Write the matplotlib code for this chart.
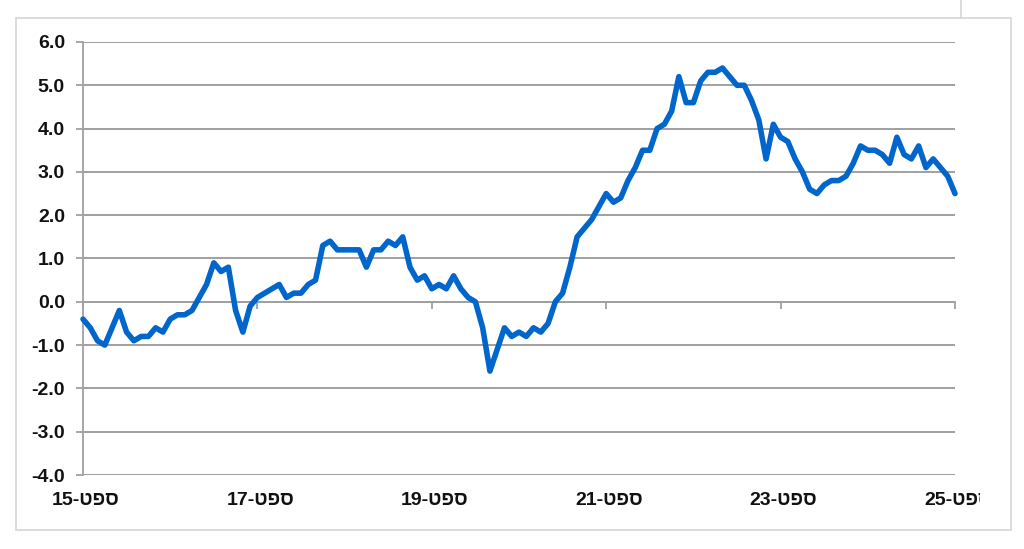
import matplotlib
matplotlib.use("Agg")
import matplotlib.pyplot as plt
from matplotlib.lines import Line2D
from matplotlib.patches import Rectangle
from matplotlib.transforms import Bbox, TransformedBbox

# Monthly values, Sep 2015 .. Sep 2025
values = [
    -0.4, -0.6, -0.9, -1.0, -0.6, -0.2, -0.7, -0.9, -0.8, -0.8,
    -0.6, -0.7, -0.4, -0.3, -0.3, -0.2, 0.1, 0.4, 0.9, 0.7,
    0.8, -0.2, -0.7, -0.1, 0.1, 0.2, 0.3, 0.4, 0.1, 0.2,
    0.2, 0.4, 0.5, 1.3, 1.4, 1.2, 1.2, 1.2, 1.2, 0.8,
    1.2, 1.2, 1.4, 1.3, 1.5, 0.8, 0.5, 0.6, 0.3, 0.4,
    0.3, 0.6, 0.3, 0.1, 0.0, -0.6, -1.6, -1.1, -0.6, -0.8,
    -0.7, -0.8, -0.6, -0.7, -0.5, 0.0, 0.2, 0.8, 1.5, 1.7,
    1.9, 2.2, 2.5, 2.3, 2.4, 2.8, 3.1, 3.5, 3.5, 4.0,
    4.1, 4.4, 5.2, 4.6, 4.6, 5.1, 5.3, 5.3, 5.4, 5.2,
    5.0, 5.0, 4.65, 4.2, 3.3, 4.1, 3.8, 3.7, 3.3, 3.0,
    2.6, 2.5, 2.7, 2.8, 2.8, 2.9, 3.2, 3.6, 3.5, 3.5,
    3.4, 3.2, 3.8, 3.4, 3.3, 3.6, 3.1, 3.3, 3.1, 2.9,
    2.5,
]
months = list(range(len(values)))
tick_months = [0, 24, 48, 72, 96, 120]
tick_labels = ["15-טפס", "17-טפס", "19-טפס", "21-טפס", "23-טפס", "25-טפס"]
y_ticks = [6.0, 5.0, 4.0, 3.0, 2.0, 1.0, 0.0, -1.0, -2.0, -3.0, -4.0]

plt.rcParams['font.family'] = ['Liberation Sans', 'DejaVu Sans']

W, H = 1024, 549
fig = plt.figure(figsize=(W / 100, H / 100), dpi=100)
fig.patch.set_facecolor('white')

# outer frame
frame_col = '#d9d9d9'
fig.add_artist(Rectangle((16 / W, 1 - 530 / H), (1011 - 16) / W, (530 - 18) / H,
                         transform=fig.transFigure, fill=False,
                         edgecolor=frame_col, linewidth=1.3))
fig.add_artist(Line2D([961 / W, 961 / W], [1 - 18 / H, 1.0], transform=fig.transFigure,
                      color=frame_col, linewidth=1.3))

left, right = 83 / W, 955 / W
bottom, top = 1 - 475 / H, 1 - 42 / H
ax = fig.add_axes([left, bottom, right - left, top - bottom])
ax.set_facecolor('none')

grid_col = '#a0a0a0'
ax.set_xlim(0, 120)
ax.set_ylim(-4, 6)
ax.set_yticks(y_ticks)
ax.set_yticklabels([f"{v:.1f}" for v in y_ticks], fontsize=14, fontweight='bold', color='#111111')
ax.yaxis.grid(True, color=grid_col, linewidth=1.4)
ax.set_axisbelow(True)
ax.tick_params(axis='y', direction='out', length=5, width=1.3, color=grid_col, pad=8)

for s in ['top', 'right']:
    ax.spines[s].set_visible(False)
ax.spines['left'].set_color(grid_col)
ax.spines['left'].set_linewidth(1.3)
ax.spines['bottom'].set_position(('data', 0))
ax.spines['bottom'].set_color(grid_col)
ax.spines['bottom'].set_linewidth(1.3)
ax.set_xticks(tick_months)
ax.set_xticklabels([''] * len(tick_months))
ax.tick_params(axis='x', direction='out', length=5, width=1.3, color=grid_col)

ax.plot(months, values, color='#0066cc', linewidth=4.0, solid_joinstyle='round',
        solid_capstyle='round', clip_on=False, zorder=3)

clip = TransformedBbox(Bbox([[0, 0], [980 / W, 1]]), fig.transFigure)
for m, lab in zip(tick_months, tick_labels):
    t = ax.text(m + 0.4, -0.058, lab, transform=ax.get_xaxis_transform(), ha='center', va='center',
                fontsize=14, fontweight='bold', color='#111111')
    t.set_clip_box(clip)
    t.set_clip_on(True)

fig.savefig('out.png', dpi=100, facecolor='white')
